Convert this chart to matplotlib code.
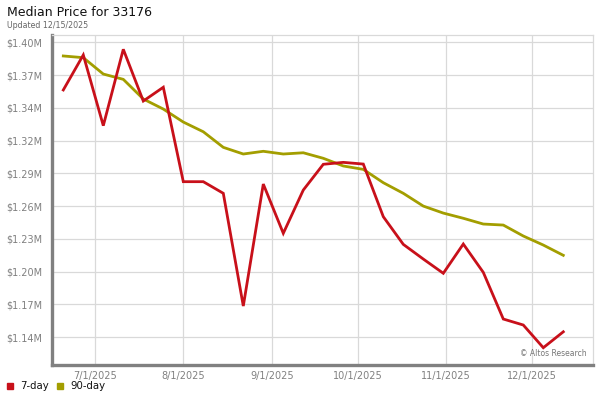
import matplotlib
matplotlib.use("Agg")
import matplotlib.pyplot as plt
import matplotlib.dates as mdates
import matplotlib.ticker as mticker
from datetime import datetime, timedelta

title = "Median Price for 33176"
subtitle = "Updated 12/15/2025"
watermark = "\u00a9 Altos Research"

dates = ["2025-06-20", "2025-06-27", "2025-07-04", "2025-07-11", "2025-07-18",
         "2025-07-25", "2025-08-01", "2025-08-08", "2025-08-15", "2025-08-22",
         "2025-08-29", "2025-09-05", "2025-09-12", "2025-09-19", "2025-09-26",
         "2025-10-03", "2025-10-10", "2025-10-17", "2025-10-24", "2025-10-31",
         "2025-11-07", "2025-11-14", "2025-11-21", "2025-11-28", "2025-12-05",
         "2025-12-12"]

# values in millions of dollars
seven_day = [1.3603, 1.3913, 1.3287, 1.3963, 1.3505, 1.3627, 1.2791, 1.2791,
             1.2688, 1.1690, 1.2770, 1.2334, 1.2717, 1.2945, 1.2962, 1.2947,
             1.2481, 1.2236, 1.2106, 1.1980, 1.2239, 1.1988, 1.1575, 1.1522,
             1.1321, 1.1462]
ninety_day = [1.3904, 1.3889, 1.3744, 1.3697, 1.3523, 1.3434, 1.3319, 1.3233,
              1.3095, 1.3036, 1.3060, 1.3036, 1.3047, 1.2998, 1.2930, 1.2900,
              1.2782, 1.2688, 1.2575, 1.2513, 1.2467, 1.2416, 1.2407, 1.2310,
              1.2230, 1.2139]

y_ticks = [1.4025, 1.3735, 1.3445, 1.3155, 1.2865, 1.2575, 1.2285, 1.1995,
           1.1705, 1.1415]
y_tick_labels = ["$1.40M", "$1.37M", "$1.34M", "$1.32M", "$1.29M", "$1.26M",
                 "$1.23M", "$1.20M", "$1.17M", "$1.14M"]
x_ticks = ["2025-07-01", "2025-08-01", "2025-09-01", "2025-10-01",
           "2025-11-01", "2025-12-01"]
x_tick_labels = ["7/1/2025", "8/1/2025", "9/1/2025", "10/1/2025",
                 "11/1/2025", "12/1/2025"]

series_names = ["7-day", "90-day"]
colors = ["#c8101a", "#a39e00"]

plt.rcParams['font.family'] = ['DejaVu Sans']

fig = plt.figure(figsize=(6, 4), dpi=100)
W, H = 600, 400
left_px, right_px, top_px, bottom_px = 51.7, 593.3, 35.3, 365.0
ax = fig.add_axes([left_px / W, 1 - bottom_px / H,
                   (right_px - left_px) / W, (bottom_px - top_px) / H])

x = [datetime.strptime(d, "%Y-%m-%d") for d in dates]
ax.plot(x, ninety_day, color=colors[1], lw=2.0, solid_joinstyle='round', zorder=3)
ax.plot(x, seven_day, color=colors[0], lw=2.0, solid_joinstyle='miter', zorder=4)

ax.set_ylim(1.1168, 1.4087)
ax.set_xlim(x[0] - timedelta(days=4.06), x[0] + timedelta(days=185.5))

ax.set_yticks(y_ticks)
ax.set_yticklabels(y_tick_labels)
xt = [datetime.strptime(d, "%Y-%m-%d") for d in x_ticks]
ax.set_xticks(xt)
ax.set_xticklabels(x_tick_labels)

ax.grid(True, color="#d9d9d9", lw=0.9, zorder=0)
ax.set_axisbelow(True)
ax.tick_params(axis='both', length=0, colors="#808080", labelsize=7)
ax.tick_params(axis='y', pad=7)
ax.tick_params(axis='x', pad=4)

for s in ['left', 'bottom']:
    ax.spines[s].set_color("#808080")
    ax.spines[s].set_linewidth(2.4)
for s in ['top', 'right']:
    ax.spines[s].set_color("#d9d9d9")
    ax.spines[s].set_linewidth(0.9)

fig.text(7 / W, 1 - 13 / H, title, fontsize=9, color="#111111", va='center', ha='left')
fig.text(7 / W, 1 - 25 / H, subtitle, fontsize=5.7, color="#666666", va='center', ha='left')
fig.text(587 / W, 1 - 354 / H, watermark, fontsize=5.5, color="#777777", va='center', ha='right')

# legend
leg_x = [10, 60]
for name, c, lx in zip(series_names, colors, leg_x):
    fig.patches.append(plt.Rectangle(((lx - 3) / W, 1 - 389 / H), 6 / W, 6 / H,
                                     transform=fig.transFigure, color=c))
    fig.text((lx + 10) / W, 1 - 386 / H, name, fontsize=7.3, color="#111111",
             va='center', ha='left')

fig.savefig("out.png", dpi=100)
